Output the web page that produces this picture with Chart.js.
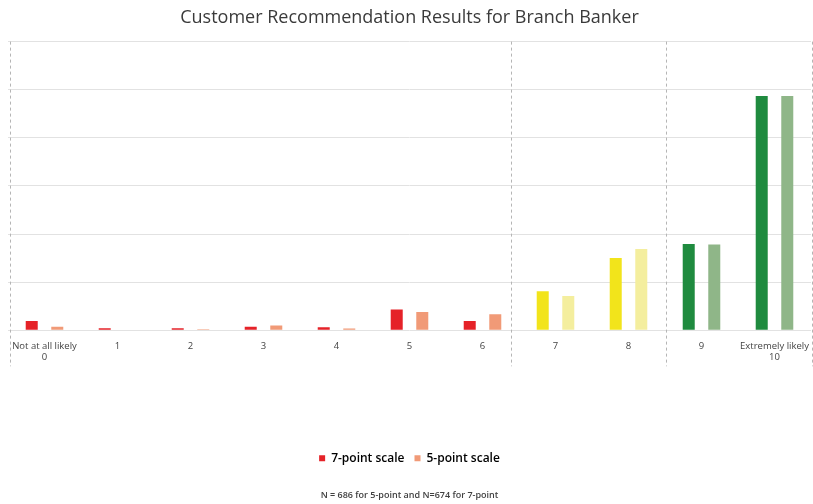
<!DOCTYPE html>
<html>
<head>
<meta charset="utf-8">
<script src="https://cdn.jsdelivr.net/npm/chart.js@4.4.1/dist/chart.umd.min.js"></script>
<style>
    html, body { margin: 0; padding: 0; background: #ffffff; }
    #wrap { width: 813px; height: 504px; }
</style>
</head>
<body>
<div id="wrap"><canvas id="barChart" width="813" height="504"></canvas></div>
<script>
// Likelihood scale, 0 to 10
const categories = [
    ['Not at all likely', '0'], '1', '2', '3', '4', '5', '6', '7', '8', '9',
    ['Extremely likely', '10']
];

// Share of respondents (%)
const sevenPoint = [1.9, 0.4, 0.4, 0.7, 0.6, 4.3, 1.9, 8.1, 15.0, 17.9, 48.7];
const fivePoint = [0.7, 0, 0.2, 1.0, 0.35, 3.8, 3.3, 7.1, 16.9, 17.8, 48.7];

// Positions (in category units) of the dashed separators
const dividers = [-0.47, 6.39, 8.52, 10.52];

const sevenColors = ['#e52228', '#e52228', '#e52228', '#e52228', '#e52228', '#e52228', '#e52228',
    '#f2e41b', '#f2e41b', '#1f8b3f', '#1f8b3f'];
const fiveColors = ['#f19a77', '#f19a77', '#f19a77', '#f19a77', '#f19a77', '#f19a77', '#f19a77',
    '#f4ee9e', '#f4ee9e', '#8fb688', '#8fb688'];

const font = "'Open Sans', 'Noto Sans', sans-serif";

// dashed vertical lines between the groups
const dividerPlugin = {
    id: 'dividers',
    beforeDatasetsDraw(chart) {
        const { ctx, chartArea, scales } = chart;
        ctx.save();
        ctx.strokeStyle = '#b5b5b5';
        ctx.lineWidth = 1;
        ctx.setLineDash([3, 3]);
        dividers.forEach((v) => {
            const x = Math.round(scales.x.getPixelForValue(v)) + 0.5;
            ctx.beginPath();
            ctx.moveTo(x, chartArea.top);
            ctx.lineTo(x, chartArea.bottom + 36);
            ctx.stroke();
        });
        ctx.restore();
    }
};

const ctx = document.getElementById('barChart').getContext('2d');
new Chart(ctx, {
    type: 'bar',
    data: {
        labels: categories,
        datasets: [
            {
                label: '7-point scale',
                data: sevenPoint,
                backgroundColor: sevenColors,
                categoryPercentage: 0.7,
                barPercentage: 0.47,
            },
            {
                label: '5-point scale',
                data: fivePoint,
                backgroundColor: fiveColors,
                categoryPercentage: 0.7,
                barPercentage: 0.47,
            },
        ],
    },
    options: {
        responsive: false,
        animation: false,
        layout: { padding: { left: 8, right: 2, top: 0, bottom: 0 } },
        plugins: {
            title: {
                display: true,
                text: 'Customer Recommendation Results for Branch Banker',
                color: '#3a3a3a',
                font: { family: font, size: 18, weight: 'normal' },
                padding: { top: 7, bottom: 13 },
            },
            subtitle: {
                display: true,
                position: 'bottom',
                text: 'N = 686 for 5-point and N=674 for 7-point',
                color: '#404040',
                font: { family: font, size: 9, weight: '600' },
                padding: { top: 16, bottom: 3 },
            },
            legend: {
                position: 'bottom',
                labels: {
                    boxWidth: 6,
                    boxHeight: 6,
                    color: '#404040',
                    padding: 10,
                    generateLabels: (chart) => chart.data.datasets.map((ds, i) => ({
                        text: ds.label,
                        fillStyle: i === 0 ? sevenColors[0] : fiveColors[0],
                        strokeStyle: 'transparent',
                        lineWidth: 0,
                        datasetIndex: i,
                    })),
                    font: { family: font, size: 12, weight: '600' },
                },
            },
            tooltip: { enabled: false },
        },
        scales: {
            x: {
                grid: { display: false },
                border: { display: false },
                ticks: {
                    color: '#444444',
                    font: { family: font, size: 9.5, weight: '500' },
                    maxRotation: 0,
                    autoSkip: false,
                    padding: 2,
                },
                afterFit: (scale) => { scale.height = 112; },
            },
            y: {
                min: 0,
                max: 60,
                ticks: { display: false, stepSize: 10 },
                border: { display: false },
                grid: { color: '#e2e2e2', drawTicks: false },
            },
        },
    },
    plugins: [dividerPlugin],
});
</script>
</body>
</html>
